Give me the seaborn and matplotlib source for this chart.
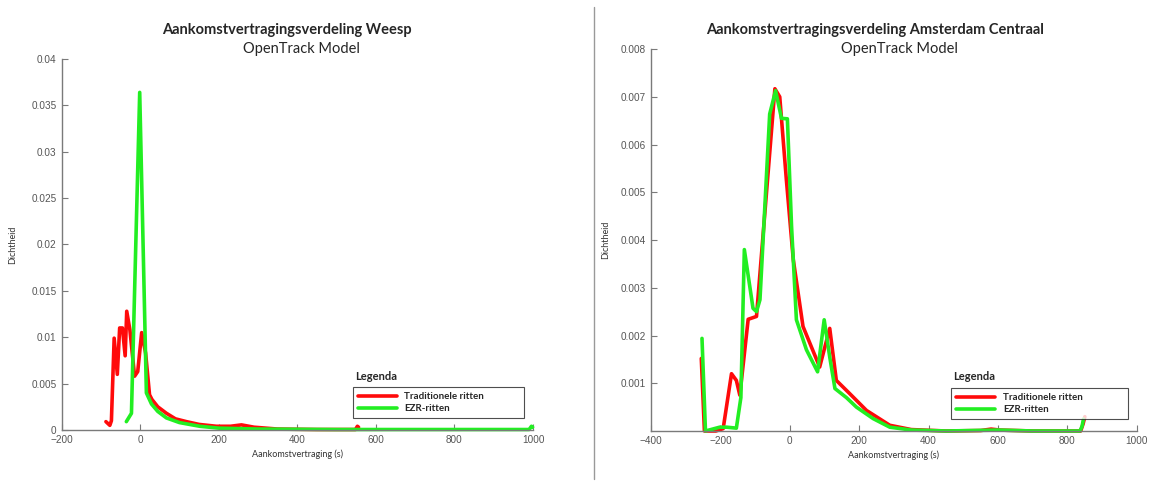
import pandas as pd
import matplotlib as mpl
from matplotlib import pyplot as plt
from matplotlib.lines import Line2D
import seaborn as sns
import numpy as np

# Weesp (left panel)
weesp_trad_x = [-87, -77, -73, -66, -58, -52, -45, -38, -34, -26, -14, -6, 4, 14, 24,
                30, 45, 67, 90, 118, 150, 194, 230, 258, 290, 350, 450, 548, 553, 556]
weesp_trad_y = [0.0009, 0.0005, 0.001, 0.0099, 0.006, 0.011, 0.011, 0.008, 0.0128, 0.0108,
                0.0058, 0.0063, 0.0105, 0.0083, 0.0038, 0.0033, 0.0025, 0.0018, 0.0012,
                0.0009, 0.0006, 0.0004, 0.0004, 0.00055, 0.0003, 0.0001, 0.00005,
                0.00005, 0.0004, 0.0003]
weesp_ezr_x = [-35, -22, -1, 16, 29, 45, 67, 100, 152, 200, 300, 500, 800, 990, 996, 999]
weesp_ezr_y = [0.0009, 0.0018, 0.0364, 0.004, 0.0028, 0.002, 0.0013, 0.0008, 0.0004,
               0.0002, 0.0001, 0.00005, 0.00005, 0.00005, 0.0004, 0.0003]

# Amsterdam Centraal (right panel)
asd_trad_x = [-255, -246, -213, -192, -168, -154, -144, -120, -96, -43, -29, -10, 10, 38,
              86, 115, 134, 173, 221, 288, 350, 450, 550, 580, 605, 700, 838, 845, 850]
asd_trad_y = [0.00152, 0.0, 0.0, 0.00005, 0.0012, 0.00106, 0.00075, 0.00234, 0.0024,
              0.00717, 0.007, 0.00527, 0.00359, 0.00219, 0.00134, 0.00215, 0.00106,
              0.00078, 0.00043, 0.00012, 0.00003, 0.0, 0.00001, 0.00004, 0.00002, 0.0,
              0.0, 0.00015, 0.0003]
asd_ezr_x = [-253, -243, -202, -182, -154, -141, -131, -106, -96, -86, -58, -41, -24, -7,
             5, 19, 48, 80, 99, 115, 130, 163, 192, 240, 288, 350, 450, 600, 700, 836, 842, 846]
asd_ezr_y = [0.00194, 0.0, 0.00008, 0.00008, 0.00006, 0.0007, 0.0038, 0.00257, 0.0025,
             0.00275, 0.00664, 0.00713, 0.00655, 0.00654, 0.00429, 0.00233, 0.0017,
             0.00124, 0.00233, 0.00155, 0.00089, 0.0007, 0.0005, 0.00026, 0.00008,
             0.00002, 0.0, 0.00002, 0.0, 0.0, 0.0001, 0.00025]

labels = ['Traditionele ritten', 'EZR-ritten']
colors = ['#ff0a0a', '#22ee22']

sns.set_style('ticks')
plt.rcParams['font.family'] = ['Lato', 'DejaVu Sans']
grey = '#7a7a7a'

fig = plt.figure(figsize=(11.54, 4.84), dpi=100)
axL = fig.add_axes([0.0533, 0.1116, 0.4086, 0.7665])
axR = fig.add_axes([0.5641, 0.1095, 0.4211, 0.7890])


def draw(ax, xs1, ys1, xs2, ys2):
    df = pd.concat([
        pd.DataFrame({'x': xs1, 'y': ys1, 'rit': labels[0]}),
        pd.DataFrame({'x': xs2, 'y': ys2, 'rit': labels[1]}),
    ])
    sns.lineplot(data=df, x='x', y='y', hue='rit', palette=colors, sort=False,
                 estimator=None, units='rit', lw=2.6, ax=ax, legend=False)
    for ln in ax.lines:
        ln.set_clip_on(False)
        ln.set_solid_joinstyle('round')
    sns.despine(ax=ax)
    for s in ['left', 'bottom']:
        ax.spines[s].set_color(grey)
        ax.spines[s].set_linewidth(1.0)
    ax.tick_params(direction='in', length=4, width=0.8, color=grey,
                   labelsize=7.2, labelcolor='#555555')
    ax.set_xlabel('Aankomstvertraging (s)', fontsize=6.5, color='#333333', labelpad=3)
    ax.set_ylabel('Dichtheid', fontsize=6.5, color='#333333')
    handles = [Line2D([], [], color=c, lw=2.6) for c in colors]
    leg = ax.legend(handles, labels, loc='lower left',
                    bbox_to_anchor=(0.618, 0.032, 0.363, 0.081), mode='expand',
                    borderaxespad=0, fancybox=False, frameon=True, handlelength=4.0,
                    borderpad=0.5, labelspacing=0.3, handletextpad=0.8,
                    prop={'size': 7, 'weight': 'bold', 'family': 'Lato'})
    leg.get_frame().set_edgecolor('#222222')
    leg.get_frame().set_linewidth(0.8)
    ax.text(0.622, 0.128, 'Legenda', transform=ax.transAxes, fontsize=8,
            fontweight='bold', ha='left', va='bottom')


draw(axL, weesp_trad_x, weesp_trad_y, weesp_ezr_x, weesp_ezr_y)
axL.set_xlim(-200, 1000)
axL.set_ylim(0, 0.04)
axL.set_xticks(np.arange(-200, 1001, 200))
axL.set_yticks(np.arange(0, 0.0401, 0.005))
axL.set_yticklabels(['0', '0.005', '0.01', '0.015', '0.02', '0.025', '0.03', '0.035', '0.04'])
axL.yaxis.set_label_coords(-0.095, 0.5)

draw(axR, asd_trad_x, asd_trad_y, asd_ezr_x, asd_ezr_y)
axR.set_xlim(-400, 1000)
axR.set_ylim(0, 0.008)
axR.set_xticks(np.arange(-400, 1001, 200))
axR.set_yticks(np.arange(0.001, 0.0081, 0.001))
axR.set_yticklabels(['0.001', '0.002', '0.003', '0.004', '0.005', '0.006', '0.007', '0.008'])
axR.yaxis.set_label_coords(-0.085, 0.5)

for ax in (axL, axR):
    for t in ax.get_xticklabels() + ax.get_yticklabels():
        t.set_family('Liberation Sans')

fig.text(0.249, 0.937, 'Aankomstvertragingsverdeling Weesp', ha='center', va='center',
         fontsize=10.5, fontweight='bold')
fig.text(0.261, 0.898, 'OpenTrack Model', ha='center', va='center', fontsize=10.5)
fig.text(0.758, 0.937, 'Aankomstvertragingsverdeling Amsterdam Centraal', ha='center',
         va='center', fontsize=10.5, fontweight='bold')
fig.text(0.779, 0.898, 'OpenTrack Model', ha='center', va='center', fontsize=10.5)

fig.add_artist(Line2D([0.5147, 0.5147], [0.01, 0.985], color='#999999', lw=1.0))

fig.savefig('out.png', dpi=100)
